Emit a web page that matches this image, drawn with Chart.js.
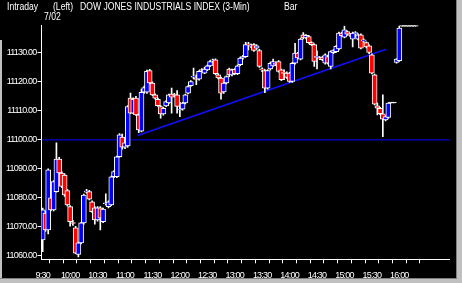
<!DOCTYPE html>
<html>
<head>
<meta charset="utf-8">
<script src="https://cdn.jsdelivr.net/npm/chart.js@4.4.1/dist/chart.umd.min.js"></script>
<style>
  html, body { margin: 0; padding: 0; background: #000; }
  #wrap { position: relative; width: 462px; height: 283px; background: #000; overflow: hidden; }
  #wrap canvas { position: absolute; left: 0; top: 0; }
  .lbl { position: absolute; color: #fff; font: 10px 'Liberation Sans', Arial, sans-serif; line-height: 10px;
         white-space: nowrap; transform: scaleX(0.86); transform-origin: 0 0; }
  .frame { position: absolute; }
</style>
</head>
<body>
<div id="wrap">
  <canvas id="dowChart" width="462" height="283"></canvas>
  <div class="lbl" style="left:7px;top:2px;">Intraday</div>
  <div class="lbl" style="left:53px;top:2px;">(Left)</div>
  <div class="lbl" style="left:80px;top:2px;">DOW JONES INDUSTRIALS INDEX (3-Min)</div>
  <div class="lbl" style="left:284px;top:2px;">Bar</div>
  <div class="lbl" style="left:44px;top:12px;">7/02</div>
  <div class="frame" style="left:0;top:40px;width:2px;height:243px;background:#c0c0c0;"></div>
  <div class="frame" style="left:456px;top:0;width:1px;height:283px;background:#808080;"></div>
  <div class="frame" style="left:457px;top:0;width:5px;height:283px;background:#c0c0c0;"></div>
  <div class="frame" style="left:0;top:278px;width:457px;height:1px;background:#808080;"></div>
  <div class="frame" style="left:0;top:279px;width:462px;height:4px;background:#c0c0c0;"></div>
</div>
<script>
/* 3-minute bars, 9:30 onwards (bar n starts 3*n minutes after the open) */
const opens = [
  11065.5, 11074.8, 11069, 11080, 11075.9, 11082.2, 11093.4, 11088.6, 11087.9, 11082.5,
  11077, 11071.5, 11069.7, 11060.5, 11064.5, 11071.4, 11082, 11082.2, 11078.7, 11076.6,
  11072.4, 11076.6, 11071.8, 11078, 11077, 11077.6, 11087.3, 11087.3, 11094.2, 11101,
  11097.5, 11097.9, 11114.4, 11109.2, 11114.4, 11108.6, 11103, 11116.4, 11116.4, 11123.9,
  11119.6, 11115.5, 11114, 11111.5, 11108.9, 11111.7, 11112.7, 11115.8, 11115.5, 11115.5,
  11110.3, 11110.6, 11112.7, 11116.1, 11118.7, 11121.6, 11121.2, 11120.9, 11124.2, 11123,
  11124.1, 11125.5, 11127.2, 11127.6, 11122.4, 11121.3, 11116.5, 11119.6, 11124.4, 11122.4,
  11124.3, 11122.8, 11125.9, 11128.2, 11128.7, 11132.9, 11132.4, 11132.8, 11131.6, 11130.8,
  11124.3, 11123.9, 11117.8, 11124.4, 11125.5, 11126.2, 11127, 11124.1, 11123.1, 11123,
  11123, 11120.1, 11126.4, 11129.9, 11127.8, 11136.2, 11135.1, 11135.6, 11133.5, 11132.8,
  11128.4, 11128.2, 11128.5, 11126.4, 11128.7, 11125.3, 11130, 11130.4, 11131.3, 11136.8,
  11135.4, 11137.3, 11136.2, 11134.7, 11136.6, 11134.7, 11136.2, 11134.1, 11133.5, 11132.4,
  11129.3, 11122.4, 11111.7, 11110.9, 11109, 11106.9, 11107.7, 11112.7, 11112.7, 11126.7,
  11127.3, 11139.2, 11139.2, 11139.2, 11139.2, 11139.2, 11139.2
];
const highs = [
  11076.5, 11075.5, 11090, 11081, 11086, 11099, 11094, 11089, 11088.3, 11083,
  11077.4, 11072.3, 11070.2, 11064.8, 11071.6, 11081.3, 11083, 11082.6, 11079, 11077,
  11077, 11077, 11076.5, 11081.4, 11079, 11087.5, 11089.4, 11094.4, 11102.2, 11102,
  11099.5, 11111.8, 11116.1, 11114.5, 11115, 11108.9, 11117.5, 11118.5, 11124, 11124.3,
  11120, 11115.9, 11114.4, 11111.8, 11111.2, 11113.5, 11115.8, 11117.8, 11116, 11117,
  11113, 11112.9, 11115.8, 11118.6, 11120.4, 11124.7, 11122.4, 11123.9, 11124.6, 11125,
  11125.8, 11127.3, 11127.8, 11127.9, 11122.8, 11121.6, 11119.8, 11122.1, 11124.7, 11124.4,
  11124.6, 11125.8, 11128.5, 11129.1, 11133.6, 11133.6, 11133, 11133.2, 11132.7, 11131.2,
  11124.8, 11124.2, 11124.2, 11126.8, 11127.8, 11126.6, 11127.3, 11124.4, 11124.1, 11123.4,
  11123.3, 11126.7, 11133.3, 11130.2, 11135, 11137, 11136.3, 11136, 11133.8, 11133.1,
  11130.7, 11128.6, 11128.8, 11129.6, 11129, 11130.7, 11131.1, 11132.5, 11137.1, 11137.1,
  11139.2, 11137.6, 11136.6, 11137.1, 11137.3, 11136.5, 11136.5, 11134.8, 11133.8, 11132.7,
  11129.6, 11122.7, 11112.7, 11111.2, 11115.5, 11108.3, 11112.8, 11112.7, 11112.7, 11128,
  11139.2, 11139.2, 11139.2, 11139.2, 11139.2, 11139.2, 11139.2
];
const lows = [
  11061.5, 11068.5, 11067.6, 11075.5, 11075.5, 11082, 11088.2, 11083.5, 11080.5, 11077.2,
  11070.3, 11070.5, 11060.8, 11059.7, 11064.2, 11071, 11081.6, 11079.3, 11075, 11071,
  11072, 11069, 11071.5, 11077.5, 11076.6, 11077.3, 11087, 11087, 11094, 11096.8,
  11097, 11097.5, 11109, 11109, 11108.4, 11102.5, 11102.7, 11116, 11116, 11119.3,
  11115.2, 11114, 11111.5, 11107.5, 11108.5, 11111.4, 11112.4, 11109.2, 11114.8, 11109.2,
  11108, 11110.2, 11112.4, 11115.8, 11118.4, 11121, 11119, 11120.6, 11123.5, 11122.8,
  11123.8, 11125.2, 11126.8, 11122.5, 11121, 11114, 11116, 11119.3, 11121.8, 11122,
  11122.5, 11122.5, 11125.6, 11127.8, 11128.5, 11131, 11131.8, 11130.5, 11131.2, 11125,
  11123.5, 11116.3, 11117.5, 11124, 11125.3, 11125.6, 11123.3, 11120.4, 11120.7, 11121.2,
  11119.8, 11119.8, 11126.1, 11127.9, 11127.5, 11134.8, 11134.8, 11133.2, 11132.5, 11125.3,
  11124.4, 11127.6, 11127.3, 11126.1, 11126.1, 11124.4, 11129.7, 11130.1, 11131, 11135.6,
  11135.1, 11136.1, 11135.6, 11132, 11135.3, 11134.4, 11131.3, 11133.6, 11131.7, 11129.7,
  11122.7, 11112, 11108.6, 11108.7, 11101.1, 11106.5, 11107.4, 11112.7, 11112.7, 11126.4,
  11127, 11139.2, 11139.2, 11139.2, 11139.2, 11139.2, 11139.2
];
const closes = [
  11075.9, 11069, 11089.7, 11075.9, 11085.6, 11093.4, 11088.6, 11084, 11081, 11077.6,
  11071.8, 11071.2, 11061, 11064.5, 11071.4, 11081, 11082.2, 11079.6, 11075.3, 11072.4,
  11076.6, 11073, 11076.2, 11078.3, 11078.7, 11087.3, 11089.1, 11094.2, 11101.7, 11097.5,
  11099, 11111.5, 11109.2, 11114, 11108.6, 11103.4, 11116.4, 11118, 11123.6, 11119.6,
  11115.5, 11114.4, 11111.8, 11108.9, 11110.9, 11113.2, 11115.5, 11114.7, 11115.3, 11111.5,
  11110.6, 11112.7, 11115.5, 11118.4, 11120.1, 11122, 11120.8, 11123.6, 11123.9, 11124.4,
  11125.5, 11127, 11127.4, 11122.8, 11121.3, 11116.1, 11119.6, 11121.8, 11122.4, 11124.1,
  11122.8, 11125.5, 11128.2, 11128.7, 11132.8, 11132.7, 11132.6, 11130.8, 11132.4, 11125.3,
  11124.1, 11117.8, 11123.9, 11126.4, 11127, 11126, 11123.6, 11120.7, 11122.9, 11121.5,
  11120.1, 11126.4, 11129.9, 11128.2, 11134.7, 11135.1, 11136, 11133.5, 11132.8, 11127,
  11128.6, 11127.9, 11127.6, 11129.3, 11126.4, 11130.4, 11130.8, 11132.2, 11136.8, 11135.9,
  11137.9, 11136.4, 11136, 11136.8, 11136.8, 11136.2, 11131.6, 11134.3, 11132, 11130.1,
  11123, 11112.3, 11110.9, 11109, 11107.1, 11108, 11112.7, 11112.7, 11112.7, 11127.8,
  11138.5, 11139.2, 11139.2, 11139.2, 11139.2, 11139.2, 11139.2
];

// x axis labels every 10 bars (30 min), minor ticks halfway
const timeLabels = ['9:30', '10:00', '10:30', '11:00', '11:30', '12:00', '12:30',
                    '13:00', '13:30', '14:00', '14:30', '15:00', '15:30', '16:00'];
const priceTicks = [11060, 11070, 11080, 11090, 11100, 11110, 11120, 11130];

// hand-drawn support line and the 11100 reference level
const trendFrom = { bar: 34.6, price: 11101.5 };
const trendTo = { bar: 125.2, price: 11131.2 };
const refPrice = 11100;

const X_MIN = -0.44, X_MAX = 148.3;
const Y_MIN = 11058.86, Y_MAX = 11139.4;

const tickFont = { family: "'Liberation Sans',Arial,sans-serif", size: 9 };

function candleColor(i) {
    if (closes[i] > opens[i]) return '#0000ff';
    if (closes[i] < opens[i]) return '#ff0000';
    return '#ffffff';
}

const bodies = opens.map((o, i) => ({ x: i, y: [o, closes[i]] }));
const wicks = lows.map((l, i) => ({ x: i, y: [l, highs[i]] }));
const xTicks = timeLabels.flatMap((t, k) => [k * 10, k * 10 + 5]);

// the original terminal font is narrow; tighten the canvas text a bit
const tightText = {
    id: 'tightText',
    beforeDraw(chart) { chart.ctx.letterSpacing = '-0.8px'; }
};

new Chart(document.getElementById('dowChart'), {
    type: 'bar',
    data: {
        datasets: [
            {
                type: 'line', data: [{ x: X_MIN, y: refPrice }, { x: X_MAX, y: refPrice }],
                borderColor: '#0000ff', borderWidth: 1, pointRadius: 0, order: 4
            },
            {
                type: 'line', data: [{ x: trendFrom.bar, y: trendFrom.price }, { x: trendTo.bar, y: trendTo.price }],
                borderColor: '#1010ff', borderWidth: 1.6, pointRadius: 0, order: 3
            },
            {
                data: wicks, backgroundColor: '#ffffff', borderWidth: 0,
                barThickness: 1, grouped: false, order: 2
            },
            {
                data: bodies, backgroundColor: bodies.map((b, i) => candleColor(i)),
                borderColor: '#ffffff', borderWidth: 1, borderSkipped: false,
                barThickness: 5, minBarLength: 1, grouped: false, order: 1
            }
        ]
    },
    plugins: [tightText],
    options: {
        responsive: false,
        animation: false,
        layout: { padding: { top: 25.5, right: 12.5, left: 0, bottom: 0 } },
        plugins: { legend: { display: false }, tooltip: { enabled: false } },
        scales: {
            x: {
                type: 'linear', min: X_MIN, max: X_MAX, offset: false,
                afterBuildTicks: s => { s.ticks = xTicks.map(v => ({ value: v })); },
                afterFit: s => { s.height = 23.7; },
                ticks: {
                    autoSkip: false, maxRotation: 0, color: '#ffffff', font: tickFont, padding: 7,
                    callback: v => (v % 10 === 0 ? timeLabels[v / 10] : '')
                },
                grid: { drawOnChartArea: false, drawTicks: true, tickLength: 4, tickColor: '#ffffff' },
                border: { color: '#ffffff', width: 1 }
            },
            y: {
                min: Y_MIN, max: Y_MAX,
                afterBuildTicks: s => { s.ticks = priceTicks.map(v => ({ value: v })); },
                afterFit: s => { s.width = 41.5; },
                ticks: { color: '#ffffff', font: tickFont, padding: 1, callback: v => v.toFixed(2) },
                grid: { drawOnChartArea: false, drawTicks: true, tickLength: 4, tickColor: '#ffffff' },
                border: { color: '#ffffff', width: 1 }
            }
        }
    }
});
</script>
</body>
</html>
